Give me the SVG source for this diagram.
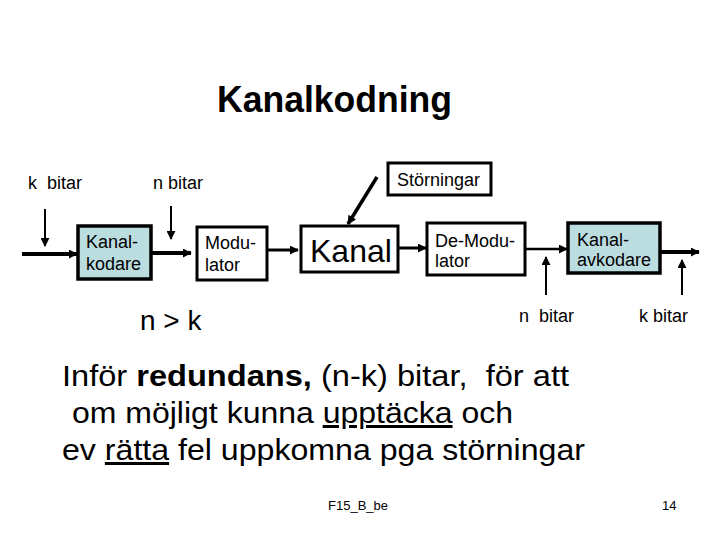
<svg xmlns="http://www.w3.org/2000/svg" width="720" height="540" viewBox="0 0 720 540">
<defs>
<marker id="ah" viewBox="0 0 10 10" refX="9" refY="5" markerWidth="9" markerHeight="9" markerUnits="userSpaceOnUse" orient="auto"><path d="M0,0 L10,5 L0,10 z" fill="#000"/></marker>
<style>
text{font-family:"Liberation Sans",Arial,sans-serif;fill:#000}
.box{fill:#fff;stroke:#000;stroke-width:3}
.blue{fill:#bcdde0;stroke:#000;stroke-width:3.5}
.lbl{font-size:18px}
.c{fill:none;stroke:#000}
</style>
</defs>
<rect width="720" height="540" fill="#fff"/>
<text x="217" y="112" font-size="36" font-weight="bold" textLength="235" lengthAdjust="spacingAndGlyphs">Kanalkodning</text>
<text x="28" y="189" class="lbl" xml:space="preserve">k  bitar</text>
<text x="153" y="189" class="lbl">n bitar</text>
<text x="140" y="330" font-size="28">n &gt; k</text>
<text x="519" y="322" class="lbl" xml:space="preserve">n  bitar</text>
<text x="639" y="322" class="lbl">k bitar</text>
<g id="connectors">
<line class="c" x1="22" y1="254" x2="77" y2="254" stroke-width="4" marker-end="url(#ah)"/>
<line class="c" x1="45" y1="209" x2="45" y2="246" stroke-width="2" marker-end="url(#ah)"/>
<line class="c" x1="171" y1="206" x2="171" y2="239" stroke-width="2" marker-end="url(#ah)"/>
<line class="c" x1="152" y1="253" x2="191" y2="253" stroke-width="4" marker-end="url(#ah)"/>
<line class="c" x1="267" y1="250" x2="298" y2="250" stroke-width="3" marker-end="url(#ah)"/>
<line class="c" x1="377" y1="177" x2="348" y2="224" stroke-width="3.5" marker-end="url(#ah)"/>
<line class="c" x1="398" y1="248" x2="426" y2="248" stroke-width="3" marker-end="url(#ah)"/>
<line class="c" x1="525" y1="249" x2="567" y2="249" stroke-width="2.5" marker-end="url(#ah)"/>
<line class="c" x1="661" y1="252" x2="699" y2="252" stroke-width="4" marker-end="url(#ah)"/>
<line class="c" x1="546" y1="295" x2="546" y2="257" stroke-width="2" marker-end="url(#ah)"/>
<line class="c" x1="682" y1="295" x2="682" y2="260" stroke-width="2" marker-end="url(#ah)"/>
</g>
<g id="kanalkodare"><rect class="blue" x="78" y="226" width="73" height="53"/><text x="86" y="248" class="lbl">Kanal-</text><text x="86" y="270" class="lbl">kodare</text></g>
<g id="modulator"><rect class="box" x="197" y="227" width="70" height="53"/><text x="205" y="249" class="lbl">Modu-</text><text x="205" y="271" class="lbl">lator</text></g>
<g id="storningar"><rect class="box" x="388" y="163" width="103" height="32"/><text x="397" y="186" class="lbl">Störningar</text></g>
<g id="kanal"><rect class="box" x="301" y="226" width="97" height="46"/><text x="310" y="262" font-size="32">Kanal</text></g>
<g id="demodulator"><rect class="box" x="427" y="223" width="98" height="52"/><text x="435" y="247" class="lbl">De-Modu-</text><text x="435" y="267" class="lbl">lator</text></g>
<g id="kanalavkodare"><rect class="blue" x="568" y="223" width="92" height="50"/><text x="577" y="246" class="lbl">Kanal-</text><text x="577" y="266" class="lbl">avkodare</text></g>
<g id="body" font-size="30">
<text x="62" y="386" textLength="507" lengthAdjust="spacingAndGlyphs" xml:space="preserve">Inför <tspan font-weight="bold">redundans,</tspan> (n-k) bitar,  för att</text>
<text x="72" y="423" textLength="441" lengthAdjust="spacingAndGlyphs">om möjligt kunna <tspan text-decoration="underline">upptäcka</tspan> och</text>
<text x="62" y="460" textLength="523" lengthAdjust="spacingAndGlyphs">ev <tspan text-decoration="underline">rätta</tspan> fel uppkomna pga störningar</text>
</g>
<text x="328" y="510" font-size="13">F15_B_be</text>
<text x="662" y="510" font-size="13">14</text>
</svg>
